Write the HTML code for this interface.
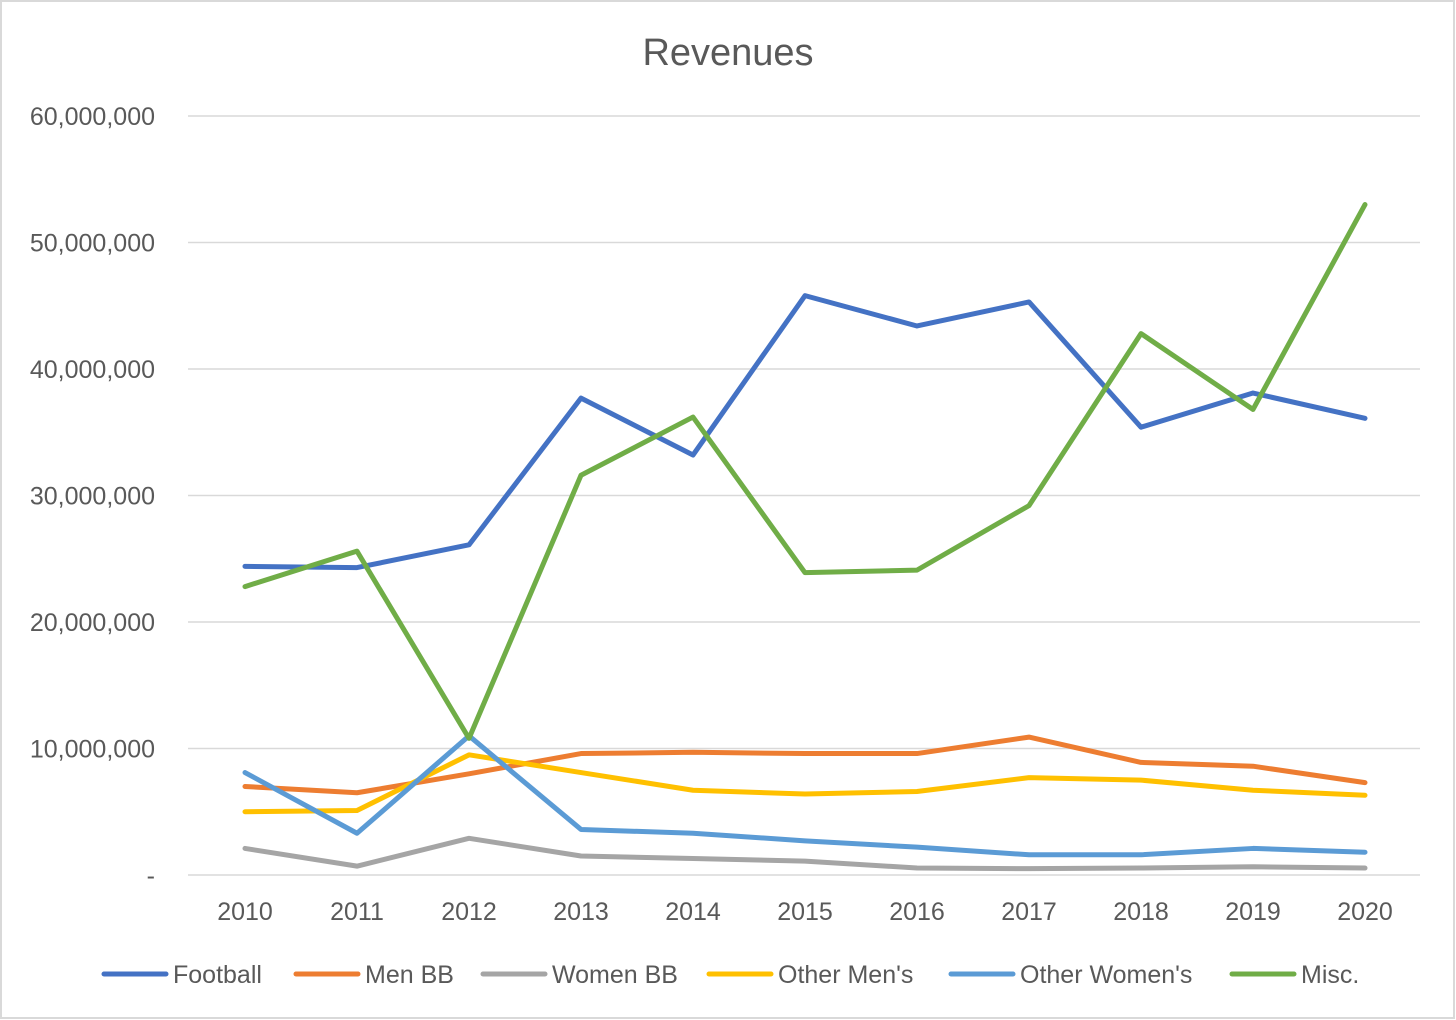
<!DOCTYPE html>
<html><head><meta charset="utf-8"><style>
html,body{margin:0;padding:0;background:#fff}
svg{display:block;font-family:"Liberation Sans",sans-serif}
</style></head><body>
<svg id="chart" width="1456" height="1020">
<rect x="1" y="1" width="1453" height="1017" fill="#fff" stroke="#d9d9d9" stroke-width="2"/>
<text x="728" y="65" text-anchor="middle" font-size="38" fill="#595959">Revenues</text>
<g id="grid"></g><g id="yticks"></g><g id="xticks"></g><g id="series"></g><g id="legend"></g>
</svg>
<script>
const years = ["2010","2011","2012","2013","2014","2015","2016","2017","2018","2019","2020"];
const yTicks = [0,10000000,20000000,30000000,40000000,50000000,60000000];
const yTickLabels = ["-","10,000,000","20,000,000","30,000,000","40,000,000","50,000,000","60,000,000"];
const seriesNames = ["Football","Men BB","Women BB","Other Men's","Other Women's","Misc."];
const football = [24.4,24.3,26.1,37.7,33.2,45.8,43.4,45.3,35.4,38.1,36.1];
const menBB = [7.0,6.5,8.0,9.6,9.7,9.6,9.6,10.9,8.9,8.6,7.3];
const womenBB = [2.1,0.7,2.9,1.5,1.3,1.1,0.55,0.5,0.55,0.65,0.55];
const otherMens = [5.0,5.1,9.5,8.1,6.7,6.4,6.6,7.7,7.5,6.7,6.3];
const otherWomens = [8.1,3.3,11.0,3.6,3.3,2.7,2.2,1.6,1.6,2.1,1.8];
const misc = [22.8,25.6,10.8,31.6,36.2,23.9,24.1,29.2,42.8,36.8,53.0];
const seriesValues = [football,menBB,womenBB,otherMens,otherWomens,misc];
const colors = ["#4472c4","#ed7d31","#a5a5a5","#ffc000","#5b9bd5","#70ad47"];
const NS="http://www.w3.org/2000/svg";
const y0=875,y60=116,xL=188,xR=1420;
const yScale=v=>y0-(v/60000000)*(y0-y60);
const xScale=i=>245+i*(1365-245)/(years.length-1);
function mk(tag,attrs,parent){const e=document.createElementNS(NS,tag);for(const k in attrs)e.setAttribute(k,attrs[k]);parent.appendChild(e);return e;}
const grid=document.getElementById('grid'),yt=document.getElementById('yticks'),xt=document.getElementById('xticks'),sg=document.getElementById('series'),lg=document.getElementById('legend');
yTicks.forEach((t,i)=>{
 const l=mk('line',{x1:xL,x2:xR,y1:yScale(t),y2:yScale(t),stroke:'#d9d9d9','stroke-width':1.5},grid);
 
 
 const tx=mk('text',{x:155,y:yScale(t)+9,'text-anchor':'end','font-size':25,fill:'#595959'},yt);
 tx.textContent=yTickLabels[i];
 
 
});
years.forEach((yr,i)=>{
 const tx=mk('text',{x:xScale(i),y:920,'text-anchor':'middle','font-size':25,fill:'#595959'},xt);
 tx.textContent=yr;
 
 
});
seriesValues.forEach((vals,s)=>{
 const pts=vals.map((v,i)=>xScale(i)+','+yScale(v*1000000)).join(' ');
 const p=mk('polyline',{points:pts,fill:'none',stroke:colors[s],'stroke-width':5,'stroke-linejoin':'round','stroke-linecap':'round'},sg);
 
 
});
const legX=[104,296,483,709,951,1232];
seriesNames.forEach((n,s)=>{
 const g=mk('g',{},lg);
 
 
 mk('line',{x1:legX[s],x2:legX[s]+62,y1:974,y2:974,stroke:colors[s],'stroke-width':5,'stroke-linecap':'round'},g);
 const t=mk('text',{x:legX[s]+69,y:983,'font-size':25,fill:'#595959'},g);
 t.textContent=n;
});
</script>
</body></html>
